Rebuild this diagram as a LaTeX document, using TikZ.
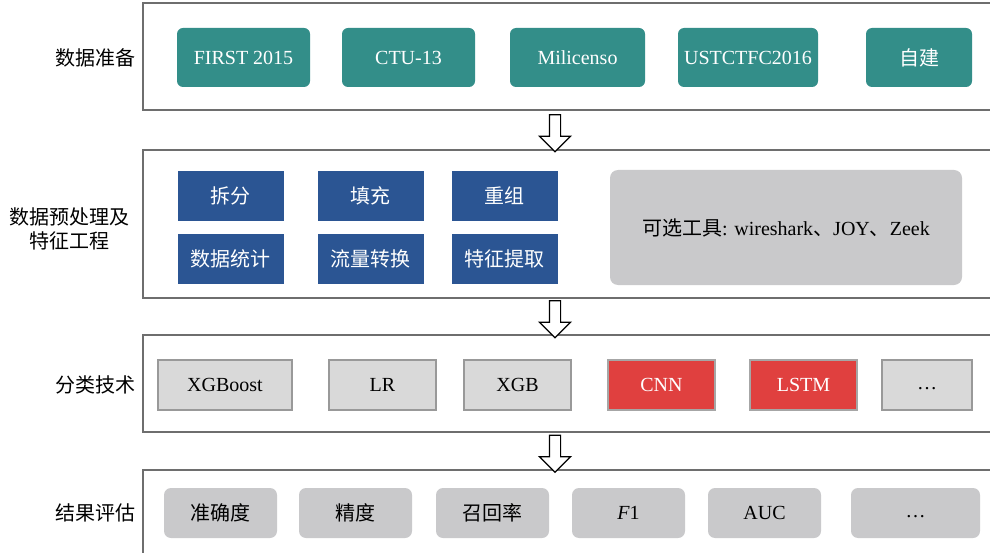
\documentclass[tikz,border=0pt]{standalone}
\usepackage{fontspec}
\setmainfont{Liberation Serif}
\newfontfamily\cjk{Noto Sans CJK SC}
\usetikzlibrary{shapes.arrows}
\definecolor{tealbox}{HTML}{338E89}
\definecolor{bluebox}{HTML}{2B5593}
\definecolor{redbox}{HTML}{E0403F}
\definecolor{lgray}{HTML}{D9D9D9}
\definecolor{mgray}{HTML}{C9C9CB}
\definecolor{bordergray}{HTML}{6E6E6E}
\tikzset{
  panel/.style={draw=bordergray, line width=1.6pt, fill=white, inner sep=0pt},
  lab/.style={anchor=east, align=center, font=\fontsize{20}{24}\selectfont\cjk},
  tealnode/.style={fill=tealbox, rounded corners=6pt, text=white, minimum height=59pt, inner sep=0pt, font=\fontsize{20}{22}\selectfont},
  bluenode/.style={fill=bluebox, text=white, minimum width=106pt, minimum height=50pt, inner sep=0pt, font=\fontsize{20}{22}\selectfont\cjk},
  toolnode/.style={fill=mgray, rounded corners=8pt, inner sep=0pt, font=\fontsize{20}{22}\selectfont},
  algnode/.style={fill=lgray, draw=gray!80, line width=1.2pt, minimum width=107pt, minimum height=50pt, inner sep=0pt, font=\fontsize{20}{22}\selectfont},
  rednode/.style={algnode, fill=redbox, draw=gray!70, text=white},
  metnode/.style={fill=mgray, rounded corners=7pt, minimum width=113pt, minimum height=50pt, inner sep=0pt, font=\fontsize{20}{22}\selectfont},
  flowarrow/.style={single arrow, draw=black, fill=white, line width=1.2pt, rotate=-90, minimum height=37pt, inner sep=5pt, single arrow head extend=10pt}
}
\begin{document}
\begin{tikzpicture}[x=1pt,y=-1pt]
\useasboundingbox (0,0) rectangle (990,553);
\fill[white] (0,0) rectangle (990,553);

% panels
\node[panel, minimum width=850pt, minimum height=107pt] (p1) at (568,56.5) {};
\node[panel, minimum width=850pt, minimum height=148pt] (p2) at (568,224) {};
\node[panel, minimum width=850pt, minimum height=97pt] (p3) at (568,383.5) {};
\node[panel, minimum width=850pt, minimum height=86pt] (p4) at (568,513) {};

% labels
\node[lab] (l1) at (139,58) {数据准备};
\node[lab] (l2) at (133,229) {数据预处理及\\特征工程};
\node[lab] (l3) at (139,385) {分类技术};
\node[lab] (l4) at (139,513) {结果评估};

% row 1
\node[tealnode, minimum width=133pt] (d1) at (243.5,57.5) {FIRST 2015};
\node[tealnode, minimum width=133pt] (d2) at (408.5,57.5) {CTU-13};
\node[tealnode, minimum width=135pt] (d3) at (577.5,57.5) {Milicenso};
\node[tealnode, minimum width=140pt] (d4) at (748,57.5) {USTCTFC2016};
\node[tealnode, minimum width=106pt, font=\fontsize{20}{22}\selectfont\cjk] (d5) at (919,57.5) {自建};

% row 2
\node[bluenode] (b1) at (230.5,196) {拆分};
\node[bluenode] (b2) at (370.5,196) {填充};
\node[bluenode] (b3) at (504.5,196) {重组};
\node[bluenode] (b4) at (230.5,259) {数据统计};
\node[bluenode] (b5) at (370.5,259) {流量转换};
\node[bluenode] (b6) at (504.5,259) {特征提取};
\node[toolnode, minimum width=352pt, minimum height=115pt] (t1) at (786,227.5) {{\cjk\fontsize{20}{22}\selectfont 可选工具}: wireshark{\cjk\fontsize{20}{22}\selectfont 、}JOY{\cjk\fontsize{20}{22}\selectfont 、}Zeek};

% row 3
\node[algnode, minimum width=134pt] (a1) at (225,385) {XGBoost};
\node[algnode] (a2) at (382.5,385) {LR};
\node[algnode] (a3) at (517.5,385) {XGB};
\node[rednode] (a4) at (661.5,385) {CNN};
\node[rednode] (a5) at (803.5,385) {LSTM};
\node[algnode, minimum width=90pt] (a6) at (927,385) {\strut …};

% row 4
\node[metnode, font=\fontsize{20}{22}\selectfont\cjk] (m1) at (220.5,513) {准确度};
\node[metnode, font=\fontsize{20}{22}\selectfont\cjk] (m2) at (355.5,513) {精度};
\node[metnode, font=\fontsize{20}{22}\selectfont\cjk] (m3) at (492.5,513) {召回率};
\node[metnode] (m4) at (628.5,513) {\textit{F}1};
\node[metnode] (m5) at (764.5,513) {AUC};
\node[metnode, minimum width=129pt] (m6) at (915.5,513) {\strut …};

% flow arrows
\node[flowarrow] (f1) at (555,130.5) {};
\node[flowarrow] (f2) at (555,316.5) {};
\node[flowarrow] (f3) at (555,451) {};
\end{tikzpicture}
\end{document}
